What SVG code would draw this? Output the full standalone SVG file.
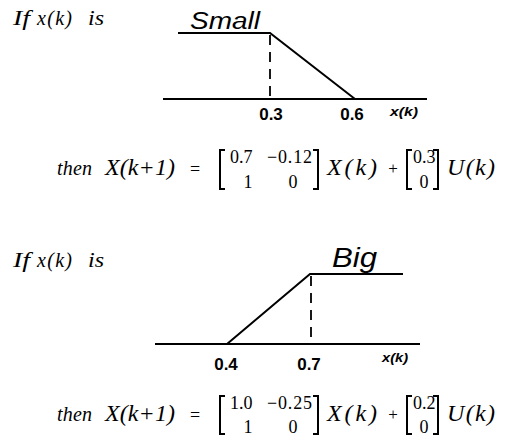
<svg xmlns="http://www.w3.org/2000/svg" width="511" height="436" viewBox="0 0 511 436">
<style>
.ln{stroke:#000;stroke-width:2;fill:none}
.dash{stroke:#000;stroke-width:1.8;fill:none;stroke-dasharray:10 7}
.br{stroke:#000;stroke-width:2;fill:none}
.ser{font-family:"Liberation Serif","Times New Roman",serif;fill:#000}
.it{font-style:italic}
.main{font-size:24px}
.ent{font-size:18px}
.tick{font-family:"Liberation Sans",Arial,sans-serif;font-weight:bold;font-size:17px;fill:#000;text-anchor:middle}
.ax{font-family:"Liberation Sans",Arial,sans-serif;font-weight:bold;font-style:italic;font-size:13px;fill:#000}
.mf{font-family:"Liberation Sans",Arial,sans-serif;font-style:italic;fill:#000}
.mid{text-anchor:middle}
.iff{font-size:20px}
</style>
<rect width="511" height="436" fill="#fff"/>

<g id="rule1-if">
<text class="ser it iff" x="13" y="25" textLength="17" lengthAdjust="spacingAndGlyphs">If</text>
<text class="ser it iff" x="37" y="25" textLength="35" lengthAdjust="spacing">x(k)</text>
<text class="ser it iff" x="88" y="25" textLength="16" lengthAdjust="spacingAndGlyphs">is</text>
</g>

<g id="chart-small">
<text class="mf" x="190" y="29" font-size="23" textLength="70" lengthAdjust="spacingAndGlyphs">Small</text>
<text class="tick" x="271" y="120">0.3</text>
<text class="tick" x="352" y="120">0.6</text>
<text class="ax" x="390" y="116" textLength="28" lengthAdjust="spacingAndGlyphs">x(k)</text>
</g>

<g id="chart-big">
<text class="mf" x="332" y="267" font-size="28" textLength="45" lengthAdjust="spacingAndGlyphs">Big</text>
<text class="tick" x="226" y="370">0.4</text>
<text class="tick" x="309" y="370">0.7</text>
<text class="ax" x="382" y="362" textLength="26" lengthAdjust="spacingAndGlyphs">x(k)</text>
</g>

<g id="connectors">
<polyline class="ln" points="178,33 270,33 355,99"/>
<line class="ln" x1="163" y1="99" x2="427" y2="99"/>
<line class="dash" x1="270" y1="35" x2="270" y2="99"/>
<polyline class="ln" points="227,344 310,274 403,274"/>
<line class="ln" x1="155" y1="344" x2="420" y2="344"/>
<line class="dash" x1="311" y1="276" x2="311" y2="344"/>
</g>

<g id="rule1-then">
<text class="ser it" x="57" y="175" font-size="20" textLength="35" lengthAdjust="spacing">then</text>
<text class="ser it main" x="105" y="175" textLength="70" lengthAdjust="spacing">X(k+1)</text>
<text class="ser ent mid" x="195" y="175">=</text>
<path class="br" d="M225,150 H220 V189 H225"/>
<path class="br" d="M313,150 H318 V189 H313"/>
<text class="ser ent" x="230" y="163">0.7</text>
<text class="ser ent" x="267" y="163" textLength="45" lengthAdjust="spacing">−0.12</text>
<text class="ser ent mid" x="248" y="188">1</text>
<text class="ser ent mid" x="293" y="188">0</text>
<text class="ser it main" x="327" y="175" textLength="50" lengthAdjust="spacing">X(k)</text>
<text class="ser mid" x="393" y="174" font-size="17">+</text>
<path class="br" d="M412,150 H407 V189 H412"/>
<path class="br" d="M433,150 H438 V189 H433"/>
<text class="ser ent" x="413" y="163" font-size="17">0.3</text>
<text class="ser ent mid" x="424" y="188">0</text>
<text class="ser it main" x="447" y="175" textLength="48" lengthAdjust="spacing">U(k)</text>
</g>

<g id="rule2-if">
<text class="ser it iff" x="13" y="267" textLength="17" lengthAdjust="spacingAndGlyphs">If</text>
<text class="ser it iff" x="37" y="267" textLength="35" lengthAdjust="spacing">x(k)</text>
<text class="ser it iff" x="88" y="267" textLength="16" lengthAdjust="spacingAndGlyphs">is</text>
</g>

<g id="rule2-then">
<text class="ser it" x="57" y="421" font-size="20" textLength="35" lengthAdjust="spacing">then</text>
<text class="ser it main" x="105" y="421" textLength="70" lengthAdjust="spacing">X(k+1)</text>
<text class="ser ent mid" x="195" y="421">=</text>
<path class="br" d="M225,396 H220 V434 H225"/>
<path class="br" d="M313,396 H318 V434 H313"/>
<text class="ser ent" x="230" y="409">1.0</text>
<text class="ser ent" x="267" y="409" textLength="45" lengthAdjust="spacing">−0.25</text>
<text class="ser ent mid" x="248" y="433">1</text>
<text class="ser ent mid" x="293" y="433">0</text>
<text class="ser it main" x="327" y="421" textLength="50" lengthAdjust="spacing">X(k)</text>
<text class="ser mid" x="393" y="420" font-size="17">+</text>
<path class="br" d="M412,396 H407 V434 H412"/>
<path class="br" d="M433,396 H438 V434 H433"/>
<text class="ser ent" x="413" y="409" font-size="17">0.2</text>
<text class="ser ent mid" x="424" y="433">0</text>
<text class="ser it main" x="447" y="421" textLength="48" lengthAdjust="spacing">U(k)</text>
</g>
</svg>
